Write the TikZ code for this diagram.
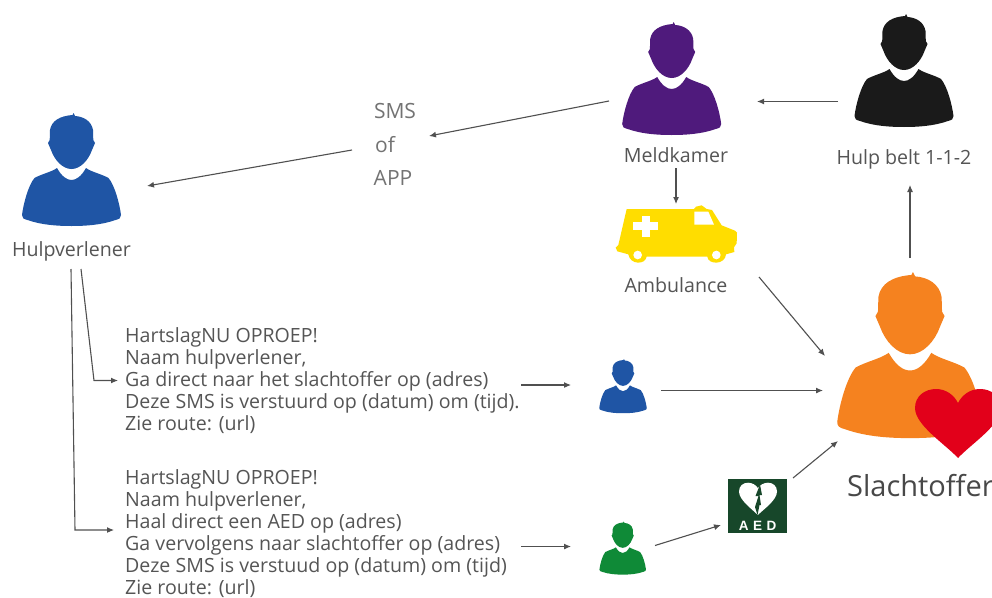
\documentclass[tikz,border=0pt]{standalone}
\usepackage{fontspec}
\setmainfont{Open Sans}
\newfontfamily\aedfont{Liberation Sans}
\definecolor{cblue}{HTML}{1F55A5}
\definecolor{cpurple}{HTML}{4F1A7C}
\definecolor{cblack}{HTML}{1A1A1A}
\definecolor{corange}{HTML}{F5821F}
\definecolor{cgreen}{HTML}{0F8A37}
\definecolor{cyellow}{HTML}{FFDD00}
\definecolor{cred}{HTML}{E2001A}
\definecolor{caed}{HTML}{17472A}
\definecolor{ctext}{HTML}{555555}
\definecolor{cline}{HTML}{505050}
\usetikzlibrary{arrows.meta}
\tikzset{
  x=1pt,y=-1pt,
  arr/.style={draw=cline,line width=1.1pt,-{Latex[length=7pt,width=6pt]}},
  lbl/.style={text=ctext,inner sep=0pt,font=\fontsize{19.6}{22}\selectfont},
  msg/.style={text=ctext,inner sep=0pt,align=left,anchor=north west,font=\fontsize{19.6}{22}\selectfont},
  smslbl/.style={text=black!55,inner sep=0pt,font=\fontsize{21}{22}\selectfont},
  pics/person/.style={code={
    \fill[#1] (1,2) -- (2,0) -- (3.5,3) .. controls (12,3.5) and (20,8) .. (21.5,17)
      -- (21.8,27) -- (23.5,30) -- (20.5,37) .. controls (17,47) and (9,56) .. (0,56)
      .. controls (-9,56) and (-17,47) .. (-20.5,37) -- (-23.5,30) -- (-21.8,27)
      -- (-21.5,17) .. controls (-20,8) and (-12,3) .. (1,2) -- cycle;
    \fill[#1] (-14.5,55) .. controls (-10,63) and (-5,67) .. (0,67)
      .. controls (5,67) and (10,63) .. (14.5,55)
      .. controls (20,59) and (30,61) .. (37,65)
      .. controls (43,72) and (48,90) .. (49.5,102)
      .. controls (49.5,105) and (48,106) .. (44,107)
      .. controls (30,112) and (14,113) .. (0,113)
      .. controls (-14,113) and (-30,112) .. (-44,107)
      .. controls (-48,106) and (-49.5,105) .. (-49.5,102)
      .. controls (-48,90) and (-43,72) .. (-37,65)
      .. controls (-30,61) and (-20,59) .. (-14.5,55) -- cycle;
  }}
}
\begin{document}
\begin{tikzpicture}
\useasboundingbox (0,0) rectangle (992,597);
\fill[white] (0,0) rectangle (992,597);

% people
\pic (hulpverlenerIcon) at (71.5,113) {person=cblue};
\pic (meldkamerIcon) at (671.7,22) {person=cpurple};
\pic (hulpIcon) at (904,14) {person=cblack};
\pic[scale=1.47] (slachtofferIcon) at (910,272) {person=corange};
\pic[scale=0.48] (blueIcon) at (623,359) {person=cblue};
\pic[scale=0.47] (greenIcon) at (622.7,521.5) {person=cgreen};

% heart
\fill[cred] (958,458) .. controls (945,444) and (915,425) .. (915,408)
  .. controls (915,396) and (925,389) .. (936,389)
  .. controls (946,389) and (954,395) .. (958,403)
  .. controls (962,395) and (970,389) .. (980,389)
  .. controls (991,389) and (1001,396) .. (1001,408)
  .. controls (1001,425) and (971,444) .. (958,458) -- cycle;

% ambulance
\begin{scope}[shift={(600,10)},scale=1/3]
  \fill[cyellow] (80,597) -- (282,597) -- (288,590) -- (305,586) -- (320,597) -- (336,600)
    -- (365,646) -- (405,662) -- (411,668) -- (410,700) -- (402,712) -- (403,726) -- (378,733)
    .. controls (376,765) and (324,765) .. (322,740) -- (140,740)
    .. controls (136,765) and (90,765) .. (85,733)
    -- (52,724) -- (47,713) -- (55,705) -- cycle;
  \fill[white] (283,605) -- (325,605) -- (342,644) -- (283,644) -- cycle;
  \fill[white] (125,618) rectangle (149,680);
  \fill[white] (99,637) rectangle (175,660);
  \fill[white] (113,735) circle (13);
  \fill[white] (349,735) circle (13);
\end{scope}

% AED sign
\fill[caed] (727.7,479) rectangle (786.7,533);
\fill[white] (757.8,515) .. controls (752,509) and (739,500) .. (739,491.5)
  .. controls (739,486) and (743,482.7) .. (748,482.7)
  .. controls (752,482.7) and (756,485) .. (757.8,488)
  .. controls (760,485) and (764,482.7) .. (768,482.7)
  .. controls (773,482.7) and (777,486) .. (777,491.5)
  .. controls (777,500) and (764,509) .. (757.8,515) -- cycle;
\fill[caed] (760,484.5) -- (755.5,496) -- (758.5,496) -- (755,507) -- (757.5,515)
  -- (759.5,505) -- (761,505) -- (759.5,495) -- (762,495) -- cycle;
\node[inner sep=0pt,text=white] (aedLabel) at (757.5,525.5)
  {\aedfont\bfseries\fontsize{13.5}{14}\selectfont A\,\,E\,\,D};

% labels
\node[lbl] (hulpverlener) at (71.5,251.5) {Hulpverlener};
\node[lbl] (meldkamer) at (676,155) {Meldkamer};
\node[lbl] (hulpbelt) at (904,159.5) {Hulp belt 1-1-2};
\node[lbl] (ambulance) at (676,285) {Ambulance};
\node[inner sep=0pt,anchor=base west,text=ctext!85!black,font=\fontsize{29}{32}\selectfont] (slachtoffer) at (847,496) {Slachtoffer};
\node[smslbl] (sms1) at (395,111) {SMS};
\node[smslbl] (sms2) at (385,145) {of};
\node[smslbl] (sms3) at (393,178) {APP};

\node[msg] (msgA) at (125,327.5) {HartslagNU OPROEP!\\Naam hulpverlener,\\Ga direct naar het slachtoffer op (adres)\\Deze SMS is verstuurd op (datum) om (tijd).\\Zie route: (url)};
\node[msg] (msgB) at (125,469.5) {HartslagNU OPROEP!\\Naam hulpverlener,\\Haal direct een AED op (adres)\\Ga vervolgens naar slachtoffer op (adres)\\Deze SMS is verstuud op (datum) om (tijd)\\Zie route: (url)};

% connector ends
\coordinate (hulpOut) at (838,101.5);
\coordinate (meldIn) at (757,101.5);
\coordinate (meldOut) at (609,101);
\coordinate (smsIn) at (429,136);
\coordinate (smsOut) at (352,150);
\coordinate (hvIn) at (147,186);
\coordinate (meldDown) at (676,168);
\coordinate (ambIn) at (676,204);
\coordinate (slTop) at (910,258);
\coordinate (hulpIn) at (910,185);
\coordinate (ambOut) at (759,277);
\coordinate (slA) at (825,356);
\coordinate (blueOut) at (661,390.5);
\coordinate (slB) at (823,390.5);
\coordinate (aedOut) at (793,478);
\coordinate (slC) at (838,441);
\coordinate (greenOut) at (655,545.5);
\coordinate (aedIn) at (721,525);
\coordinate (msgAOut) at (521,385);
\coordinate (blueIn) at (571,385);
\coordinate (msgBOut) at (521,546.5);
\coordinate (greenIn) at (571,546.5);
\coordinate (hvA) at (81,269);
\coordinate (bendA) at (94,380.5);
\coordinate (msgAIn) at (118,380.5);
\coordinate (hvB) at (71,269);
\coordinate (bendB) at (75,530);
\coordinate (msgBIn) at (114,530);

% connectors
\draw[arr] (hulpOut) -- (meldIn);
\draw[arr] (meldOut) -- (smsIn);
\draw[arr] (smsOut) -- (hvIn);
\draw[arr] (meldDown) -- (ambIn);
\draw[arr] (slTop) -- (hulpIn);
\draw[arr] (ambOut) -- (slA);
\draw[arr] (blueOut) -- (slB);
\draw[arr] (aedOut) -- (slC);
\draw[arr] (greenOut) -- (aedIn);
\draw[arr] (msgAOut) -- (blueIn);
\draw[arr] (msgBOut) -- (greenIn);
\draw[arr] (hvA) -- (bendA) -- (msgAIn);
\draw[arr] (hvB) -- (bendB) -- (msgBIn);
\end{tikzpicture}
\end{document}
